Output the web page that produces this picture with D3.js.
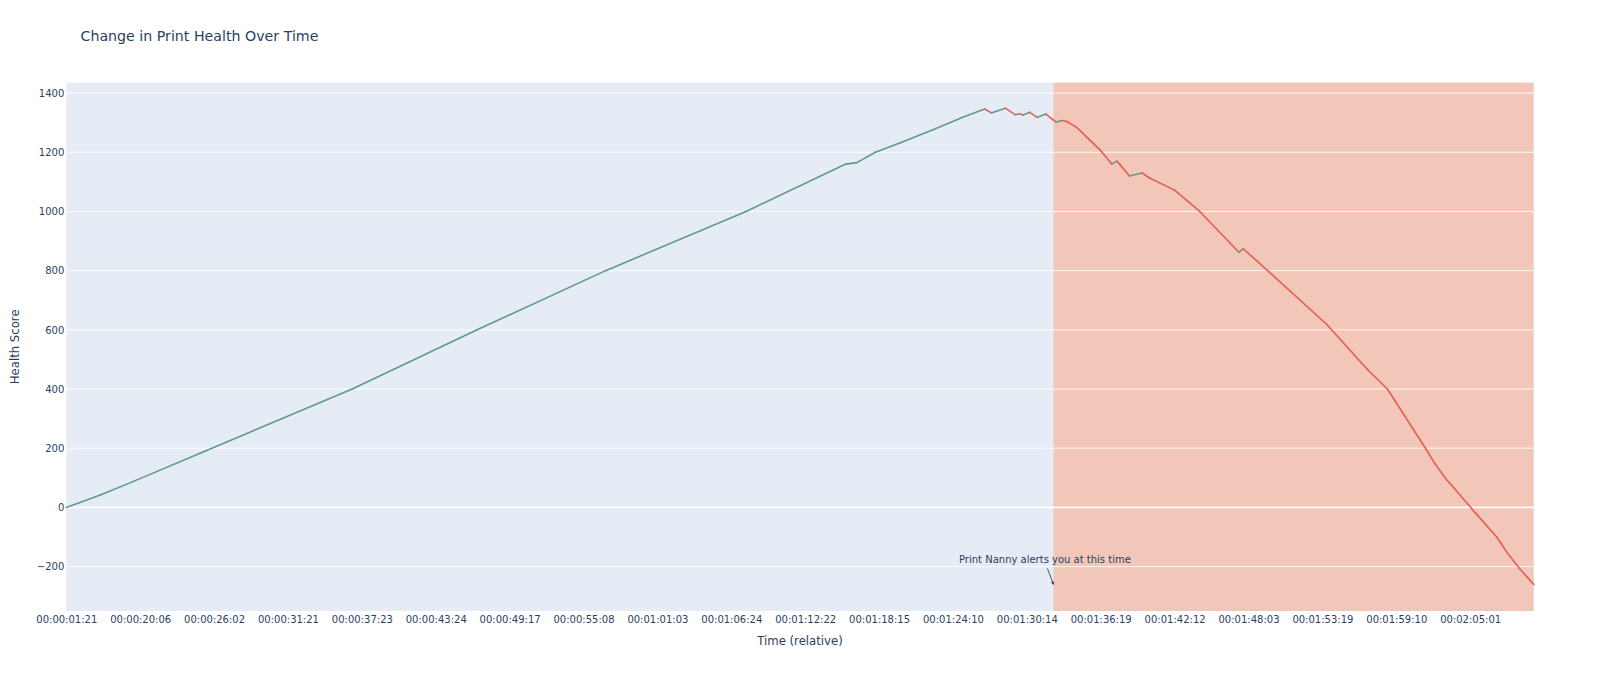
<!DOCTYPE html>
<html>
<head>
<meta charset="utf-8">
<script src="https://cdn.jsdelivr.net/npm/d3@7"></script>
<style>
  body { margin: 0; background: #fff; }
  text { font-family: "DejaVu Sans", Verdana, sans-serif; fill: #2a3f5f; }
</style>
</head>
<body>
<script>
var width = 1600;
var height = 678;

// x tick labels (category axis, one label per tick step)
var tickLabels = ["00:00:01:21", "00:00:20:06", "00:00:26:02", "00:00:31:21", "00:00:37:23",
	"00:00:43:24", "00:00:49:17", "00:00:55:08", "00:01:01:03", "00:01:06:24",
	"00:01:12:22", "00:01:18:15", "00:01:24:10", "00:01:30:14", "00:01:36:19",
	"00:01:42:12", "00:01:48:03", "00:01:53:19", "00:01:59:10", "00:02:05:01"];

// sample position, in tick steps along the category axis
var samplePos = [0, 0.46, 0.91, 1.81, 3.87, 5.56, 7.3, 9.2, 10.55, 10.7, 10.95, 11.28, 11.73, 12.14,
	12.43, 12.52, 12.71, 12.84, 12.90, 12.95, 13.04, 13.14, 13.26, 13.35, 13.40, 13.47,
	13.54, 13.67, 13.85, 13.99, 14.15, 14.22, 14.39, 14.56, 14.66, 15.0, 15.34, 15.87, 15.93,
	16.36, 17.06, 17.61, 17.88, 18.41, 18.52, 18.66, 18.72, 19.02, 19.36, 19.51, 19.67, 19.86];

var healthScore = [0, 42, 88, 183, 400, 600, 800, 1000, 1160, 1165, 1200, 1231, 1276, 1319,
	1346, 1333, 1349, 1327, 1330, 1326, 1335, 1318, 1329, 1310, 1302, 1307,
	1304, 1285, 1242, 1208, 1160, 1170, 1120, 1130, 1113, 1072, 1000, 862, 874,
	777, 618, 466, 400, 194, 149, 100, 83, -4, -100, -156, -207, -260];

var yTickValues = [-200, 0, 200, 400, 600, 800, 1000, 1200, 1400];

var alertPos = 13.36;
var alertScore = -260;

var margin = {left: 66.3, right: 66.3, top: 82.7, bottom: 67};
var plotW = width - margin.left - margin.right;
var plotH = height - margin.top - margin.bottom;

var canvas = d3.select("body")
	.append("svg")
	.attr("width", width)
	.attr("height", height);

var xScale = d3.scaleLinear()
	.domain([0, d3.max(samplePos)])
	.range([0, plotW]);

var yScale = d3.scaleLinear()
	.domain([-350, 1435])
	.range([plotH, 0]);

var plot = canvas.append("g")
	.attr("transform", "translate(" + margin.left + "," + margin.top + ")");

// background
plot.append("rect")
	.attr("width", plotW)
	.attr("height", plotH)
	.attr("fill", "#E5ECF6");

// alert region (LightSalmon at half opacity)
plot.append("rect")
	.attr("x", xScale(alertPos))
	.attr("y", 0)
	.attr("width", xScale(d3.max(samplePos)) - xScale(alertPos))
	.attr("height", plotH)
	.attr("fill", "#FFA07A")
	.attr("fill-opacity", 0.5);

// gridlines
plot.selectAll("line.grid")
	.data(yTickValues)
	.enter()
		.append("line")
		.classed("grid", true)
		.attr("x1", 0)
		.attr("x2", plotW)
		.attr("y1", function(d){ return yScale(d); })
		.attr("y2", function(d){ return yScale(d); })
		.attr("stroke", "#fff")
		.attr("stroke-width", function(d){ return d == 0 ? 1.7 : 0.9; });

// segments coloured by direction
var segments = [];
for (i = 0; i < samplePos.length - 1; i++){
	segments.push({
		x1: samplePos[i], y1: healthScore[i],
		x2: samplePos[i+1], y2: healthScore[i+1],
		up: healthScore[i+1] >= healthScore[i]
	});
}
plot.selectAll("line.seg")
	.data(segments)
	.enter()
		.append("line")
		.classed("seg", true)
		.attr("x1", function(d){ return xScale(d.x1); })
		.attr("y1", function(d){ return yScale(d.y1); })
		.attr("x2", function(d){ return xScale(d.x2); })
		.attr("y2", function(d){ return yScale(d.y2); })
		.attr("stroke", function(d){ return d.up ? "#619a86" : "#e4604e"; })
		.attr("stroke-width", 1.6)
		.attr("stroke-linecap", "round");

// axes
var xAxis = d3.axisBottom(xScale)
	.tickValues(d3.range(tickLabels.length))
	.tickFormat(function(d){ return tickLabels[d]; })
	.tickSize(0)
	.tickPadding(5);
var gx = plot.append("g")
	.attr("transform", "translate(0," + plotH + ")")
	.call(xAxis);
gx.select(".domain").remove();
gx.selectAll("text")
	.style("font-family", '"DejaVu Sans", Verdana, sans-serif')
	.style("font-size", "10px")
	.attr("fill", "#2a3f5f");

var yAxis = d3.axisLeft(yScale)
	.tickValues(yTickValues)
	.tickFormat(d3.format("d"))
	.tickSize(0)
	.tickPadding(2);
var gy = plot.append("g").call(yAxis);
gy.select(".domain").remove();
gy.selectAll("text")
	.style("font-family", '"DejaVu Sans", Verdana, sans-serif')
	.style("font-size", "10px")
	.attr("fill", "#2a3f5f");

// annotation
var tipX = xScale(alertPos);
var tipY = yScale(alertScore);
canvas.append("defs").append("marker")
	.attr("id", "head")
	.attr("viewBox", "-5 -4 8 8")
	.attr("refX", 0)
	.attr("refY", 0)
	.attr("markerWidth", 5)
	.attr("markerHeight", 5)
	.attr("orient", "auto")
	.attr("markerUnits", "userSpaceOnUse")
	.append("path")
	.attr("d", "M-4,-2.6L1,0L-4,2.6Z")
	.attr("fill", "#2a3f5f");
plot.append("line")
	.attr("x1", tipX - 6)
	.attr("y1", tipY - 16)
	.attr("x2", tipX)
	.attr("y2", tipY)
	.attr("stroke", "#2a3f5f")
	.attr("stroke-width", 0.9)
	.attr("marker-end", "url(#head)");
plot.append("text")
	.attr("x", tipX - 8.5)
	.attr("y", tipY - 24.5)
	.attr("dy", "0.35em")
	.attr("text-anchor", "middle")
	.style("font-size", "10px")
	.text("Print Nanny alerts you at this time");

// titles
canvas.append("text")
	.attr("x", 80.5)
	.attr("y", 40.5)
	.style("font-size", "14.2px")
	.text("Change in Print Health Over Time");

canvas.append("text")
	.attr("x", margin.left + plotW / 2)
	.attr("y", 640.7)
	.attr("dy", "0.35em")
	.attr("text-anchor", "middle")
	.style("font-size", "11.7px")
	.text("Time (relative)");

canvas.append("text")
	.attr("transform", "translate(14.5," + (margin.top + plotH / 2) + ") rotate(-90)")
	.attr("dy", "0.35em")
	.attr("text-anchor", "middle")
	.style("font-size", "11.7px")
	.text("Health Score");
</script>
</body>
</html>
